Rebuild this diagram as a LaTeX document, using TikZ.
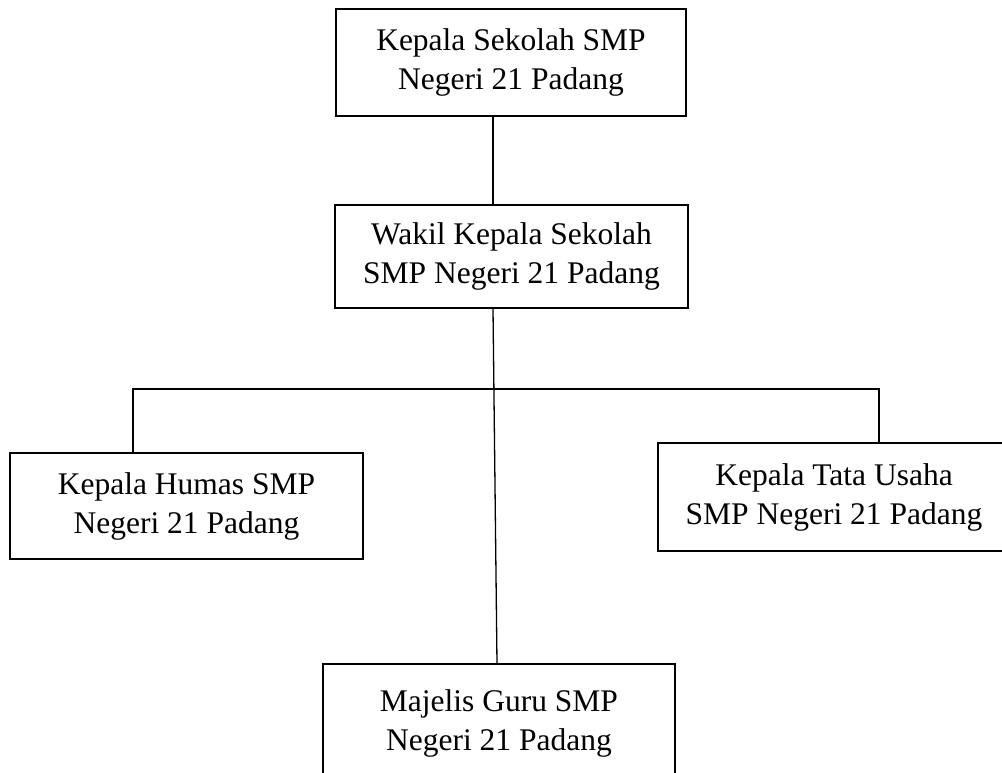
\documentclass[tikz,border=0pt]{standalone}
\usepackage{fontspec}
\setmainfont{Liberation Serif}
\begin{document}
\begin{tikzpicture}[x=1pt,y=-1pt,
  box/.style={draw, line width=1.3pt, inner sep=0pt, align=center,
    font=\fontsize{31.5}{39}\selectfont},
  conn/.style={line width=1.3pt}]
\useasboundingbox (0,0) rectangle (1002,773);
\clip (0,0) rectangle (1002,773);
\node[box, minimum width=350pt, minimum height=107pt] (kepsek) at (511,62.5) {Kepala Sekolah SMP\\Negeri 21 Padang};
\node[box, minimum width=353pt, minimum height=103pt] (wakil) at (511.5,256.5) {Wakil Kepala Sekolah\\SMP Negeri 21 Padang};
\node[box, minimum width=353pt, minimum height=106pt] (humas) at (186.5,506) {Kepala Humas SMP\\Negeri 21 Padang};
\node[box, minimum width=352pt, minimum height=108pt] (tu) at (834,497) {Kepala Tata Usaha\\SMP Negeri 21 Padang};
\node[box, minimum width=352pt, minimum height=118pt] (guru) at (499,723) {Majelis Guru SMP\\Negeri 21 Padang};
\coordinate (busL) at (133,389);
\coordinate (busR) at (879,389);
\draw[conn] ([xshift=-18pt]kepsek.south) -- ([xshift=-18.5pt]wakil.north);
\draw[conn] ([xshift=-18.5pt]wakil.south) -- ([xshift=-2pt]guru.north);
\draw[conn] (humas.north -| busL) -- (busL) -- (busR) -- (tu.north -| busR);
\end{tikzpicture}
\end{document}
